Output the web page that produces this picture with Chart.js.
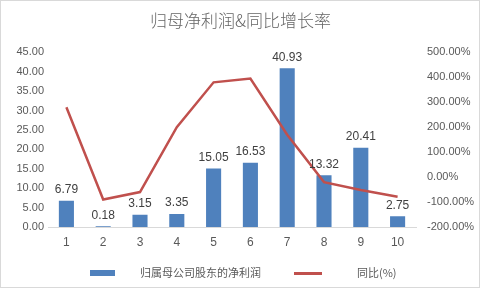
<!DOCTYPE html>
<html>
<head>
<meta charset="utf-8">
<script src="https://cdn.jsdelivr.net/npm/chart.js@4/dist/chart.umd.min.js"></script>
<style>
    html, body { margin: 0; padding: 0; background: #fff; }
    #wrap { position: relative; width: 481px; height: 289px; }
    #frame { position: absolute; left: 0; top: 0; width: 478px; height: 286px; border: 1px solid #d9d9d9; pointer-events: none; }
    #legend { position: absolute; top: 263px; left: 0; width: 481px; height: 18px; font: 11px "Noto Sans CJK SC", sans-serif; color: #595959; }
    #legend span { position: absolute; top: 0; line-height: 18px; white-space: nowrap; }
    .swatch { position: absolute; }
</style>
</head>
<body>
<div id="wrap">
    <canvas id="chart" width="481" height="289"></canvas>
    <div id="legend">
        <div class="swatch" id="barSwatch" style="left:90px; top:7px; width:25px; height:6px;"></div>
        <span style="left:140px;">归属母公司股东的净利润</span>
        <div class="swatch" id="lineSwatch" style="left:294px; top:9px; width:28px; height:2.5px;"></div>
        <span style="left:357px;">同比(%)</span>
    </div>
    <div id="frame"></div>
</div>
<script>
// 归母净利润 (亿元) & 同比增长率 (%)
const periods = ['1', '2', '3', '4', '5', '6', '7', '8', '9', '10'];
const netProfit = [6.79, 0.18, 3.15, 3.35, 15.05, 16.53, 40.93, 13.32, 20.41, 2.75];
const yoyGrowth = [280, -90, -60, 200, 380, 395, 170, -20, -52, -79];

const BAR_COLOR = '#4F81BD';
const LINE_COLOR = '#C0504D';
const TEXT_COLOR = '#595959';
const NUM_FONT = '"Liberation Sans", Arial, sans-serif';

document.getElementById('barSwatch').style.background = BAR_COLOR;
document.getElementById('lineSwatch').style.background = LINE_COLOR;

// value labels above the bars
const barLabels = {
    id: 'barLabels',
    afterDatasetsDraw(chart) {
        const ctx = chart.ctx;
        const meta = chart.getDatasetMeta(1);
        ctx.save();
        ctx.font = '12px ' + NUM_FONT;
        ctx.fillStyle = '#404040';
        ctx.textAlign = 'center';
        ctx.textBaseline = 'bottom';
        meta.data.forEach((bar, i) => {
            ctx.fillText(netProfit[i].toFixed(2), bar.x, bar.y - 5);
        });
        ctx.restore();
    }
};

new Chart(document.getElementById('chart'), {
    data: {
        labels: periods,
        datasets: [
            {
                type: 'line',
                label: '同比(%)',
                data: yoyGrowth,
                yAxisID: 'yRight',
                borderColor: LINE_COLOR,
                borderWidth: 2.5,
                pointRadius: 0,
                tension: 0,
                order: 0
            },
            {
                type: 'bar',
                label: '归属母公司股东的净利润',
                data: netProfit,
                yAxisID: 'yLeft',
                backgroundColor: BAR_COLOR,
                categoryPercentage: 1,
                barPercentage: 0.41,
                order: 1
            }
        ]
    },
    options: {
        responsive: false,
        animation: false,
        layout: { padding: { top: 0, bottom: 37, left: 0, right: 0 } },
        plugins: {
            legend: { display: false },
            tooltip: { enabled: false },
            title: {
                display: true,
                text: '归母净利润&同比增长率',
                color: '#666666',
                font: { family: '"Noto Sans CJK SC", sans-serif', size: 17, weight: 300 },
                padding: { top: 10, bottom: 22 }
            }
        },
        scales: {
            x: {
                grid: { display: false, drawTicks: false },
                border: { color: '#d9d9d9' },
                ticks: { color: TEXT_COLOR, font: { family: NUM_FONT, size: 12 }, padding: 8 },
                afterFit: (s) => { s.height = 25; }
            },
            yLeft: {
                position: 'left',
                min: 0,
                max: 45,
                grid: { display: false, drawTicks: false },
                border: { display: false },
                ticks: {
                    stepSize: 5,
                    color: TEXT_COLOR,
                    font: { family: NUM_FONT, size: 11 },
                    padding: 4,
                    callback: (v) => v.toFixed(2)
                },
                afterFit: (s) => { s.width = 48; }
            },
            yRight: {
                position: 'right',
                min: -200,
                max: 500,
                grid: { display: false, drawTicks: false },
                border: { display: false },
                ticks: {
                    stepSize: 100,
                    color: TEXT_COLOR,
                    font: { family: NUM_FONT, size: 11 },
                    padding: 11,
                    callback: (v) => v.toFixed(2) + '%'
                },
                afterFit: (s) => { s.width = 65; }
            }
        }
    },
    plugins: [barLabels]
});
</script>
</body>
</html>
